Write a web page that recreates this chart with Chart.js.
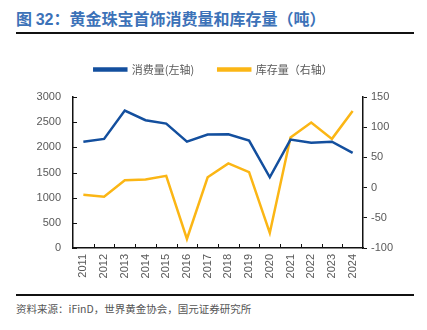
<!DOCTYPE html>
<html><head><meta charset="utf-8">
<script src="https://cdn.jsdelivr.net/npm/chart.js@4/dist/chart.umd.min.js"></script>
<style>
html,body{margin:0;padding:0;background:#fff;width:427px;height:330px;overflow:hidden;}
#title{position:absolute;left:16px;top:8px;font-family:"Noto Sans CJK SC","Liberation Sans",sans-serif;font-weight:bold;font-size:16px;color:#3c72b8;line-height:20px;white-space:nowrap;}
#title .num{font-family:"Liberation Sans",Arial,sans-serif;}
#topline{position:absolute;left:16px;top:32px;width:398px;height:2px;background:#111;}
#botline{position:absolute;left:16px;top:294px;width:398px;height:2px;background:#111;}
#source{position:absolute;left:16px;top:301px;font-family:"Noto Sans CJK SC","Liberation Sans",sans-serif;font-size:10.5px;color:#555;white-space:nowrap;line-height:16px;}
#wrap{position:absolute;left:0;top:40px;width:427px;height:252px;}
</style></head>
<body>
<div id="title">图 <span class="num">32</span>：黄金珠宝首饰消费量和库存量（吨）</div>
<div id="topline"></div>
<div id="wrap"><canvas id="c" width="427" height="252"></canvas></div>
<div id="botline"></div>
<div id="source">资料来源：iFinD，世界黄金协会，国元证券研究所</div>
<script>
const years = ["2011","2012","2013","2014","2015","2016","2017","2018","2019","2020","2021","2022","2023","2024"];
const consumption = [2113,2167,2730,2538,2471,2113,2253,2260,2133,1405,2153,2093,2113,1889];
const inventory = [-12,-15,12,13.5,19.5,-85,17,40,25.6,-75,83,107.7,80.7,127];
const leftTicks = [0,500,1000,1500,2000,2500,3000];
const rightTicks = [-100,-50,0,50,100,150];

const BLUE = "#134f9e", YELLOW = "#fbb615";
const tickFont = {family:"'Liberation Sans', Arial, sans-serif", size:11};

const tickPlugin = {
  id:'inwardTicks',
  afterDraw(chart){
    const ctx = chart.ctx, x = chart.scales.x, y = chart.scales.y;
    ctx.save();
    ctx.strokeStyle = '#111'; ctx.lineWidth = 1;
    ctx.beginPath();
    const n = years.length;
    for(let i=1;i<n;i++){
      const px = Math.round((x.getPixelForTick(i)+x.getPixelForTick(i-1))/2)+0.5;
      ctx.moveTo(px, x.top); ctx.lineTo(px, x.top-4);
    }
    y.ticks.forEach((t,i)=>{
      const py = Math.round(y.getPixelForTick(i))+0.5;
      ctx.moveTo(y.right, py); ctx.lineTo(y.right+4, py);
    });
    ctx.stroke();
    ctx.restore();
  }
};
const legendGap = {
  id:'legendGap',
  beforeInit(chart){
    const orig = chart.legend.fit;
    chart.legend.fit = function(){ orig.bind(chart.legend)(); this.height += 12; };
  }
};

new Chart(document.getElementById('c'),{
  type:'line',
  data:{labels:years,datasets:[
    {label:'消费量(左轴)',data:consumption,borderColor:BLUE,backgroundColor:BLUE,borderWidth:2.5,pointRadius:0,yAxisID:'y',tension:0},
    {label:'库存量（右轴）',data:inventory,borderColor:YELLOW,backgroundColor:YELLOW,borderWidth:2.5,pointRadius:0,yAxisID:'y1',tension:0}
  ]},
  options:{
    responsive:false,animation:false,
    layout:{padding:{top:0,left:0,right:0,bottom:0}},
    plugins:{
      legend:{position:'top',align:'center',labels:{boxWidth:32,boxHeight:2,padding:24,color:'#595959',font:{family:"'Noto Sans CJK SC', sans-serif",size:11}}},
      tooltip:{enabled:false}
    },
    scales:{
      x:{offset:true,
        grid:{display:true,offset:true,drawOnChartArea:false,color:'transparent',tickLength:4},
        border:{display:true,color:'#111',width:1.5},
        ticks:{minRotation:90,maxRotation:90,color:'#595959',font:tickFont,padding:2},
        afterFit(s){s.height=44;}
      },
      y:{position:'left',min:0,max:3000,
        afterBuildTicks(s){s.ticks=leftTicks.map(v=>({value:v}));},
        grid:{drawOnChartArea:false,color:'transparent',tickLength:4},
        border:{display:true,color:'#111',width:1.5},
        ticks:{color:'#595959',font:tickFont,padding:8,callback:v=>String(v)},
        afterFit(s){s.width=73;}
      },
      y1:{position:'right',min:-100,max:150,
        afterBuildTicks(s){s.ticks=rightTicks.map(v=>({value:v}));},
        grid:{drawOnChartArea:false,color:'#111',tickLength:4,lineWidth:1},
        border:{display:true,color:'#111',width:1.5},
        ticks:{color:'#595959',font:tickFont,padding:4,callback:v=>String(v)},
        afterFit(s){s.width=64;}
      }
    }
  },
  plugins:[tickPlugin,legendGap]
});
</script>
</body></html>
